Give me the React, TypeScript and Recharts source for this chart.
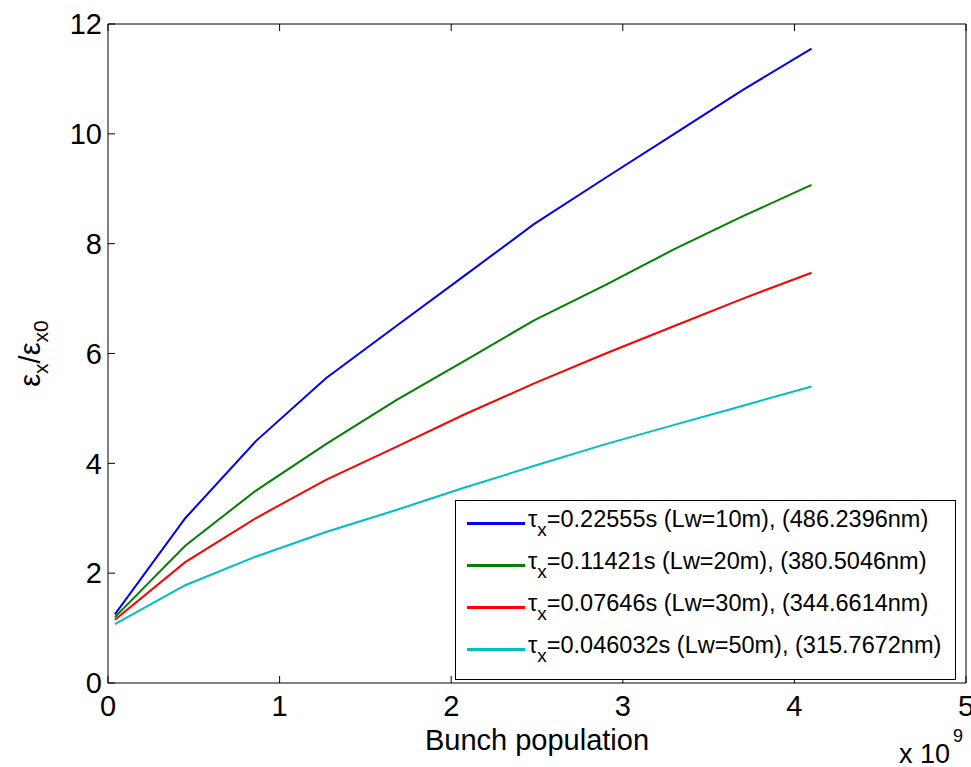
import { Label, Line, LineChart, XAxis, YAxis } from "recharts";

const C = {
  blue: "#0000ff",
  green: "#008000",
  red: "#ff0000",
  cyan: "#00bfbf",
  axis: "#000000",
};

const FONT = "'Liberation Sans', Arial, sans-serif";

// bunch population, units of 1e9
const xs = [0.04, 0.45, 0.86, 1.27, 1.68, 2.07, 2.48, 2.9, 3.3, 3.7, 4.1];
const lw10 = [1.25, 3.0, 4.4, 5.55, 6.5, 7.4, 8.35, 9.2, 10.0, 10.8, 11.55];
const lw20 = [1.2, 2.5, 3.5, 4.35, 5.15, 5.85, 6.6, 7.25, 7.9, 8.5, 9.07];
const lw30 = [1.15, 2.2, 3.0, 3.7, 4.3, 4.88, 5.45, 6.0, 6.5, 7.0, 7.47];
const lw50 = [1.07, 1.78, 2.3, 2.75, 3.15, 3.55, 3.95, 4.35, 4.7, 5.05, 5.4];

const xTicks = [0, 1, 2, 3, 4, 5];
const yTicks = [0, 2, 4, 6, 8, 10, 12];

const series = [
  { key: "lw10", color: C.blue, tau: "=0.22555s (Lw=10m), (486.2396nm)" },
  { key: "lw20", color: C.green, tau: "=0.11421s (Lw=20m), (380.5046nm)" },
  { key: "lw30", color: C.red, tau: "=0.07646s (Lw=30m), (344.6614nm)" },
  { key: "lw50", color: C.cyan, tau: "=0.046032s (Lw=50m), (315.7672nm)" },
];

const data = xs.map((x, i) => ({
  x,
  lw10: lw10[i],
  lw20: lw20[i],
  lw30: lw30[i],
  lw50: lw50[i],
}));

const tickStyle = { fontSize: 29, fill: "#000", fontFamily: FONT };

function LegendBox() {
  return (
    <div
      style={{
        position: "absolute",
        left: 455,
        top: 500,
        width: 499,
        height: 177,
        boxSizing: "content-box",
        border: "1px solid #000",
        background: "#fff",
        paddingTop: 1,
        fontFamily: FONT,
        fontSize: 23.5,
        color: "#000",
      }}
    >
      {series.map((s) => (
        <div key={s.key} style={{ display: "flex", alignItems: "center", height: 42, paddingLeft: 11 }}>
          <div style={{ width: 58, height: 3, background: s.color, marginRight: 3 }} />
          <span style={{ whiteSpace: "nowrap" }}>
            τ<sub style={{ fontSize: 19, verticalAlign: -9 }}>x</sub>
            {s.tau}
          </span>
        </div>
      ))}
    </div>
  );
}

function YTitle(props: any) {
  const vb = props.viewBox || {};
  const cx = 40;
  const cy = vb.y + vb.height / 2;
  return (
    <text
      x={cx}
      y={cy}
      transform={`rotate(-90, ${cx}, ${cy})`}
      textAnchor="middle"
      fontFamily={FONT}
      fontSize={29}
      fill="#000"
    >
      ε
      <tspan fontSize={21} dy={8}>x</tspan>
      <tspan fontSize={29} dy={-8}>/ε</tspan>
      <tspan fontSize={21} dy={8}>x0</tspan>
    </text>
  );
}

function XTitle(props: any) {
  const vb = props.viewBox || {};
  const right = vb.x + vb.width;
  return (
    <g fontFamily={FONT} fill="#000">
      <text x={vb.x + vb.width / 2} y={vb.y + 67} textAnchor="middle" fontSize={29}>
        Bunch population
      </text>
      <text x={right - 16} y={vb.y + 80} textAnchor="end" fontSize={27}>
        x 10
      </text>
      <text x={right - 13} y={vb.y + 59} fontSize={18}>
        9
      </text>
    </g>
  );
}

export default function App() {
  return (
    <div style={{ position: "absolute", left: 0, top: 0, width: 971, height: 767, background: "#fff" }}>
      <LineChart
        width={971}
        height={767}
        data={data}
        margin={{ top: 23, right: 4, bottom: 0, left: 48 }}
      >
        <XAxis
          dataKey="x"
          type="number"
          domain={[0, 5]}
          ticks={xTicks}
          stroke={C.axis}
          tick={tickStyle}
          tickSize={-7}
          tickMargin={19}
          height={84}
          interval={0}
        >
          <Label content={<XTitle />} />
        </XAxis>
        <XAxis
          xAxisId="top"
          orientation="top"
          dataKey="x"
          type="number"
          domain={[0, 5]}
          ticks={xTicks}
          stroke={C.axis}
          tickSize={-7}
          tickFormatter={() => ""}
          height={1}
        />
        <YAxis
          type="number"
          domain={[0, 12]}
          ticks={yTicks}
          stroke={C.axis}
          tick={tickStyle}
          tickSize={-7}
          tickMargin={13}
          width={60}
          interval={0}
        >
          <Label content={<YTitle />} />
        </YAxis>
        <YAxis
          yAxisId="right"
          orientation="right"
          type="number"
          domain={[0, 12]}
          ticks={yTicks}
          stroke={C.axis}
          tickSize={-7}
          tickFormatter={() => ""}
          width={1}
        />
        {series.map((s) => (
          <Line
            key={s.key}
            dataKey={s.key}
            type="linear"
            stroke={s.color}
            strokeWidth={2}
            dot={false}
            isAnimationActive={false}
          />
        ))}
      </LineChart>
      <LegendBox />
    </div>
  );
}
